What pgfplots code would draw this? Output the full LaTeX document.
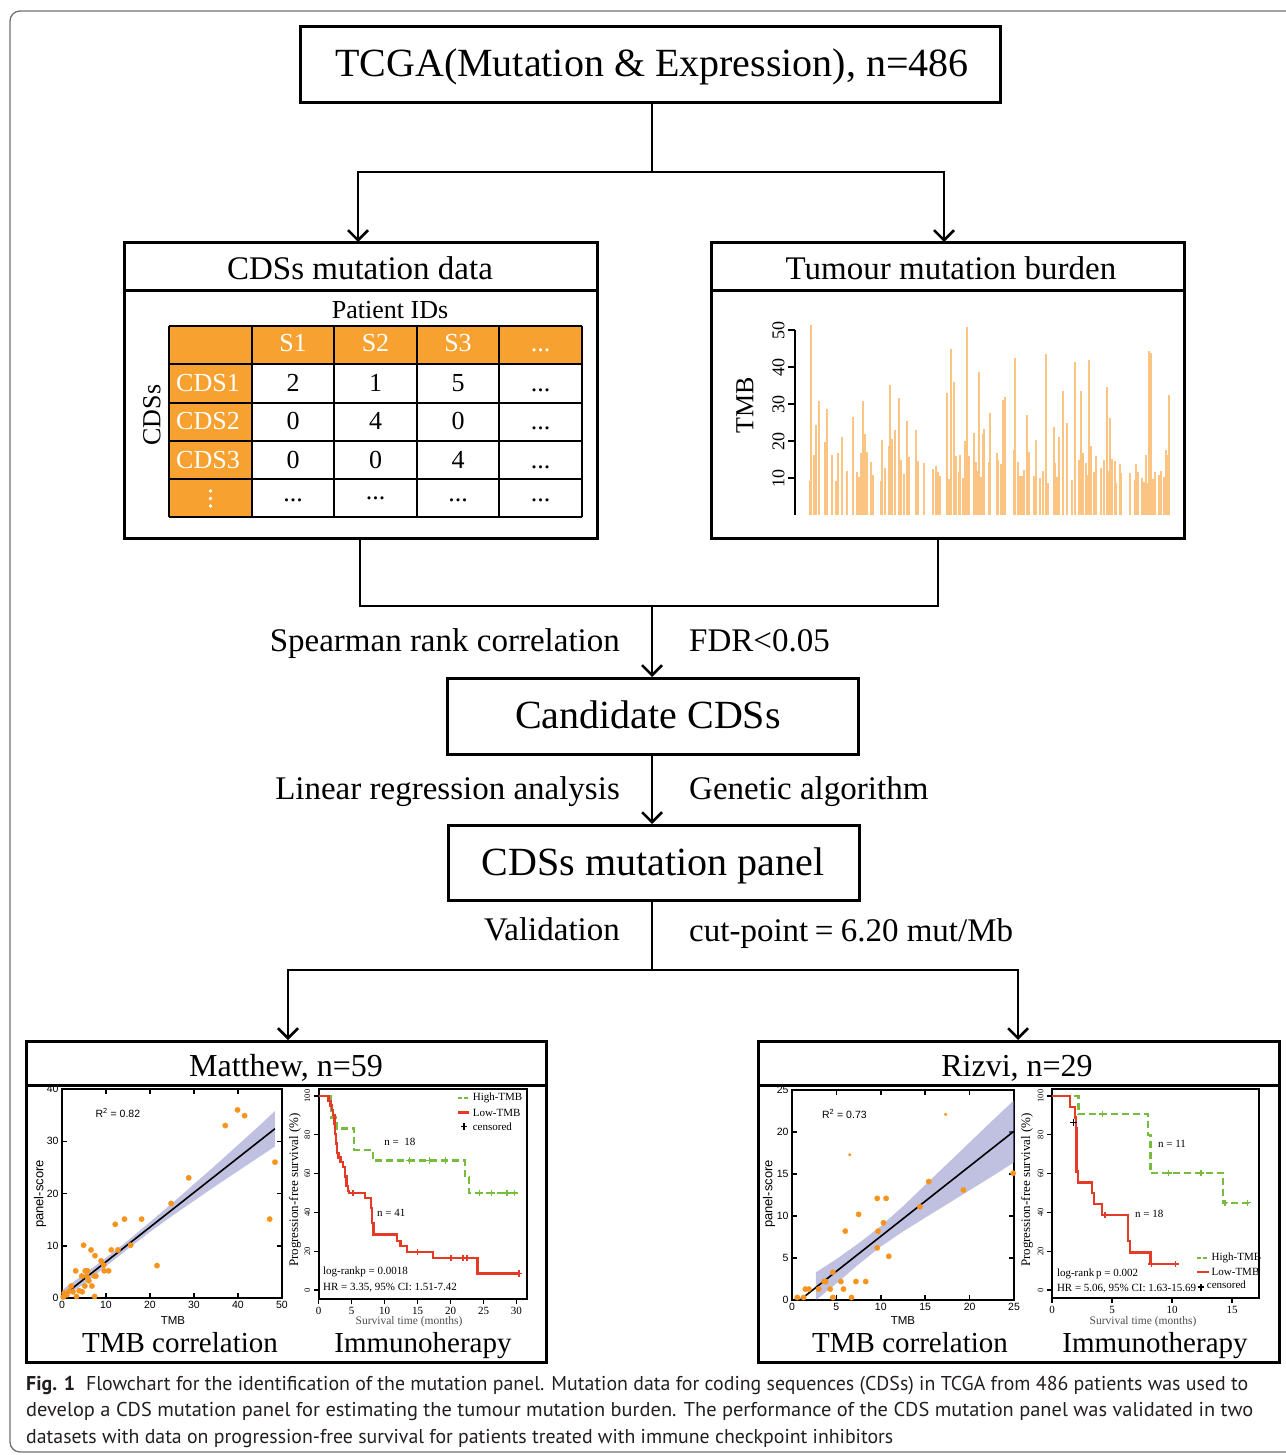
\documentclass[border=0pt]{standalone}
\usepackage{fontspec}
\setmainfont{Liberation Serif}
\setsansfont{Liberation Sans}
\newfontfamily\capfont{PT Sans}
\usepackage{graphicx}
\usepackage{pgfplots}
\pgfplotsset{compat=1.18}
\usetikzlibrary{arrows.meta}
\definecolor{taborange}{HTML}{F7A131}
\definecolor{barorange}{HTML}{F7931E}
\definecolor{ptorange}{HTML}{F7941D}
\definecolor{bandblue}{HTML}{8C8CC8}
\definecolor{kmgreen}{HTML}{77BC3F}
\definecolor{kmred}{HTML}{E53A26}
\definecolor{framegray}{HTML}{707070}
\definecolor{captext}{HTML}{231F20}
\newcommand\fs[1]{\fontsize{#1}{#1}\selectfont}
\pgfplotsset{/pgf/number format/assume math mode=true}
\tikzset{arr/.style={-{Straight Barb[length=10pt,width=20pt]}, line width=2.5pt},
         ln/.style={line width=2.5pt}, bx/.style={line width=3pt}}
\begin{document}
\begin{tikzpicture}
\useasboundingbox (0pt,0pt) rectangle (1285pt,-1455pt);
\begin{scope}[x=1pt,y=-1pt]
% outer frame
\draw[framegray, line width=1.3pt, rounded corners=10pt] (1330,1452) -- (10,1452) -- (10,11) -- (1330,11);
% top box
\draw[bx] (300,27) rectangle (1000,103);
\node[anchor=base, font=\fs{40}, inner sep=0] at (652,77) {TCGA(Mutation \& Expression), n=486};
\draw[ln] (652,103) -- (652,172);
\draw[ln] (358,172) -- (944,172);
\draw[arr] (358,171) -- (358,242);
\draw[arr] (944,171) -- (944,242);
% left box
\draw[bx] (124,243) rectangle (597,538);
\draw[bx] (124,290) -- (597,290);
\node[anchor=base, font=\fs{33}, inner sep=0] at (360,279) {CDSs mutation data};
\node[anchor=base, font=\fs{26}, inner sep=0] at (390,318.5) {Patient IDs};
\fill[taborange] (169,326) rectangle (582,364);
\fill[taborange] (169,364) rectangle (252,517);
\foreach \xx in {169,252,334,417,499,582} {\draw[line width=2pt] (\xx,326) -- (\xx,517);}
\foreach \yy in {326,364,403,441,479,517} {\draw[line width=2pt] (169,\yy) -- (582,\yy);}
\fill[white] (210.5,491) circle (1.9) (210.5,498.5) circle (1.9) (210.5,506) circle (1.9);
\begin{scope}[font=\fs{26}]
\node[anchor=base, white, inner sep=0] at (293,351) {S1};
\node[anchor=base, white, inner sep=0] at (375.5,351) {S2};
\node[anchor=base, white, inner sep=0] at (458,351) {S3};
\node[anchor=base, white, inner sep=0] at (540.5,351) {...};
\node[anchor=base, white, inner sep=0] at (208,391.5) {CDS1};
\node[anchor=base, white, inner sep=0] at (208,429.5) {CDS2};
\node[anchor=base, white, inner sep=0] at (208,468) {CDS3};
\node[anchor=base, inner sep=0] at (293,391.5) {2};
\node[anchor=base, inner sep=0] at (375.5,391.5) {1};
\node[anchor=base, inner sep=0] at (458,391.5) {5};
\node[anchor=base, inner sep=0] at (540.5,391.5) {...};
\node[anchor=base, inner sep=0] at (293,429.5) {0};
\node[anchor=base, inner sep=0] at (375.5,429.5) {4};
\node[anchor=base, inner sep=0] at (458,429.5) {0};
\node[anchor=base, inner sep=0] at (540.5,429.5) {...};
\node[anchor=base, inner sep=0] at (293,468) {0};
\node[anchor=base, inner sep=0] at (375.5,468) {0};
\node[anchor=base, inner sep=0] at (458,468) {4};
\node[anchor=base, inner sep=0] at (540.5,468) {...};
\node[anchor=base, inner sep=0] at (293,501) {...};
\node[anchor=base, inner sep=0] at (375.5,499) {...};
\node[anchor=base, inner sep=0] at (458,501) {...};
\node[anchor=base, inner sep=0] at (540.5,501) {...};
\node[rotate=90, inner sep=0] at (152,415) {CDSs};
\end{scope}
% right box
\draw[bx] (711,243) rectangle (1184,538);
\draw[bx] (711,290) -- (1184,290);
\node[anchor=base, font=\fs{33}, inner sep=0] at (951,279) {Tumour mutation burden};
\node[rotate=90, font=\fs{26}, inner sep=0] at (745,405) {TMB};
% connecting lines
\draw[ln] (360,538) -- (360,606) -- (938,606) -- (938,538);
\draw[arr] (652,606) -- (652,677);
\node[anchor=base east, font=\fs{33}, inner sep=0] at (620,651) {Spearman rank correlation};
\node[anchor=base west, font=\fs{33}, inner sep=0] at (689,651) {FDR<0.05};
\draw[bx] (447,678) rectangle (858,754);
\node[anchor=base, font=\fs{40}, inner sep=0] at (648,728) {Candidate CDSs};
\draw[arr] (652,754) -- (652,824);
\node[anchor=base east, font=\fs{33}, inner sep=0] at (620,799) {Linear regression analysis};
\node[anchor=base west, font=\fs{33}, inner sep=0] at (689,799) {Genetic algorithm};
\draw[bx] (448,825) rectangle (859,900);
\node[anchor=base, font=\fs{40}, inner sep=0] at (653,875) {CDSs mutation panel};
\draw[ln] (652,900) -- (652,970);
\node[anchor=base east, font=\fs{33}, inner sep=0] at (620,940) {Validation};
\node[anchor=base west, font=\fs{33}, inner sep=0] at (689,941) {cut-point\hspace{0.2em}=\hspace{0.22em}6.20 mut/Mb};
\draw[ln] (288,970) -- (1018,970);
\draw[arr] (288,969) -- (288,1040);
\draw[arr] (1018,969) -- (1018,1040);
% bottom boxes
\draw[bx] (26,1041) rectangle (546,1362);
\draw[bx] (26,1085) -- (546,1085);
\draw[bx] (758,1041) rectangle (1279,1362);
\draw[bx] (758,1085) -- (1279,1085);
\node[anchor=base, font=\fs{32}, inner sep=0] at (286,1076.5) {Matthew, n=59};
\node[anchor=base, font=\fs{32}, inner sep=0] at (1017,1076.5) {Rizvi, n=29};
\node[anchor=base, font=\fs{29}, inner sep=0] at (180,1352) {TMB correlation};
\node[anchor=base, font=\fs{29}, inner sep=0] at (423,1352) {Immunoherapy};
\node[anchor=base, font=\fs{29}, inner sep=0] at (910,1352) {TMB correlation};
\node[anchor=base, font=\fs{29}, inner sep=0] at (1155,1352) {Immunotherapy};
% axis labels of small plots
\node[font=\sffamily\fs{11.5}, inner sep=0] at (173,1321) {TMB};
\node[font=\sffamily\fs{13}, rotate=90, inner sep=0] at (40,1194) {panel-score};
\node[font=\sffamily\fs{11.5}, inner sep=0] at (903,1321) {TMB};
\node[font=\sffamily\fs{13}, rotate=90, inner sep=0] at (769,1194) {panel-score};
\node[font=\fs{11.5}, text=black!70, inner sep=0] at (409,1322) {Survival time (months)};
\node[font=\fs{11.5}, text=black!70, inner sep=0] at (1143,1322) {Survival time (months)};
\node[font=\fs{13}, rotate=90, inner sep=0] at (295,1190) {Progression-free survival (\%)};
\node[font=\fs{13}, rotate=90, inner sep=0] at (1027,1190) {Progression-free survival (\%)};
% caption
\begin{scope}[text=captext]
\node[anchor=base west, inner sep=0] at (26,1390) {\resizebox{1222pt}{\height}{\capfont\fs{20}\textbf{Fig. 1}\hspace{0.55em}Flowchart for the identification of the mutation panel. Mutation data for coding sequences (CDSs) in TCGA from 486 patients was used to}};
\node[anchor=base west, inner sep=0] at (26,1416.5) {\resizebox{1227pt}{\height}{\capfont\fs{20}develop a CDS mutation panel for estimating the tumour mutation burden. The performance of the CDS mutation panel was validated in two}};
\node[anchor=base west, inner sep=0] at (26,1443) {\resizebox{867pt}{\height}{\capfont\fs{20}datasets with data on progression-free survival for patients treated with immune checkpoint inhibitors}};
\end{scope}
\end{scope}

% ---------------- TMB bar chart ----------------
\begin{axis}[at={(795pt,-515pt)}, anchor=south west, scale only axis,
  width=380pt, height=185pt, xmin=795, xmax=1175, ymin=0, ymax=50,
  hide x axis, axis y line*=left, axis line style={line width=2pt,-},
  ytick={10,20,30,40,50}, tick align=outside, major tick length=7pt,
  tick style={line width=1.5pt, black},
  yticklabel style={rotate=90, anchor=south, font=\fs{18}}, clip=false]
\addplot[ycomb, draw=barorange, draw opacity=0.55, line width=1.1pt, mark=none] coordinates {
(811,51.4)(811,10.4)(810,9.2)(814,16.2)(816,24.3)(816,19.5)(819,30.9)(819,10.4)
(825,19.8)(827,28.6)(827,16)(832,16.2)(832,10.4)(836,9.2)(838,16.8)(838,11.9)
(842,21.2)(842,15.6)(847,12)(847,11.3)(853,26.6)(853,8.8)(857,11.5)(857,10.8)
(859,10.4)(861,16.8)(861,14)(863,30.9)(863,13.4)(865,22)(865,18.5)(867,17.1)(867,8.7)
(871,14.2)(873,10.8)(881,9.3)(882,20.3)(885,12.8)(885,11.9)(890,35.1)(890,24.3)
(889,18.6)(891,17)(892,20.5)(892,17.1)(895,23)(899,31.7)(899,9.2)(901,15)(904,11.1)
(907,25.5)(907,18.7)(909,8.6)(909,15.6)(916,23)(916,9.6)(918,14.6)(924,14)
(933,12.4)(936,13.3)(938,11.5)(940,10.5)(947,33.1)(947,9.3)(949,9.7)(951,45)(951,19.2)
(954,36)(956,16)(956,12.6)(959,11.5)(960,16.2)(960,8.8)(963,9.9)(965,20)(967,50.7)(967,29.1)
(969,15.9)(969,8.6)(974,22.1)(976,14.4)(977,11.9)(979,38.6)(979,11.1)(981,10.4)(981,9.5)
(983,21.8)(984,23.2)(989,14.2)(990,27.7)(997,16.7)(998,14.9)(1001,13.8)(1001,11.3)
(1003,31.1)(1005,32)(1014,15.1)(1014,17.6)(1015,42.3)(1015,23.6)(1018,14.4)(1018,8.7)
(1020,10.5)(1022,10.5)(1024,12.2)(1027,27.1)(1029,16.9)(1034,10.5)(1036,20.3)(1040,9.9)
(1043,12)(1046,43.5)(1046,9)(1048,8.6)(1054,23.7)(1054,16.8)(1055,14.1)(1057,10.2)
(1059,21.2)(1063,33.5)(1067,25)(1072,9.5)(1075,41.3)(1079,14.9)(1081,33.5)(1083,16.8)
(1086,14.1)(1086,8.9)(1088,10.8)(1089,41.9)(1091,18.6)(1091,8.8)(1094,11.7)(1096,16)
(1101,12.8)(1101,9.9)(1104,14.9)(1107,34.5)(1107,30.9)(1109,11.9)(1110,26.3)(1112,15.1)
(1115,14.7)(1116,8.6)(1120,13.8)(1120,12.6)(1121,11.4)(1130,11.3)(1135,9.5)(1136,13.8)
(1136,12.4)(1138,11.7)(1142,9.9)(1144,9)(1146,16.2)(1148,8.6)(1149,44.3)(1149,22.5)
(1151,43.7)(1151,13.1)(1153,9.6)(1155,11.5)(1159,10.8)(1161,12)(1164,10.4)(1166,17.6)
(1168,16.2)(1168,13.1)(1169,32.4)
};
\end{axis}

% ---------------- Matthew scatter ----------------
\begin{axis}[at={(62pt,-1298pt)}, anchor=south west, scale only axis,
  width=220pt, height=209pt, xmin=0, xmax=50, ymin=0, ymax=40,
  xtick={0,10,20,30,40,50}, ytick={0,10,20,30,40},
  tick align=inside, major tick length=5pt, tick style={black, line width=1.5pt},
  axis line style={line width=1.5pt}, ticklabel style={font=\sffamily\fs{10.5}}]
\addplot[only marks, color=ptorange, mark=*, mark size=2.7pt, mark options={solid, draw=ptorange, fill=ptorange, line width=0.3pt}] coordinates {
(39.9,36.0)(41.5,34.9)(37.1,33.0)(48.4,26.0)(28.8,23.0)(24.8,18.1)(47.2,15.1)(18.1,15.1)
(14.2,15.1)(12.1,14.1)(21.6,6.2)(15.6,10.1)(12.7,9.2)(11.2,9.2)(4.9,10.1)(6.6,9.2)(7.5,8.1)
(8.9,7.1)(9.5,6.3)(9.6,5.2)(10.6,5.2)(3.1,5.2)(5.3,5.2)(5.8,5.2)(4.5,4.2)(7.4,4.2)(6.1,3.3)
(5.2,2.3)(6.8,2.3)(4.6,1.2)(2.1,2.3)(1.6,1.3)(1.1,0.6)(7.4,0.3)(3.3,0.3)(0.5,0.9)(7.7,4.2)
(2.5,1.2)(5.7,4.1)(3.9,1.4)(0.3,0.2)};
\addplot[fill=bandblue, fill opacity=0.55, draw=none] coordinates {
(0,1.5)(5,4.55)(10,7.7)(15,11.0)(20,14.55)(25,18.1)(30,21.8)(35,25.5)(40,29.3)(45,33.1)(48.4,35.8)
(48.4,29.0)(45,27.1)(40,24.3)(35,21.5)(30,18.6)(25,15.7)(20,12.65)(15,9.4)(10,6.1)(5,2.65)(0,0)} -- cycle;
\addplot[black, line width=1.6pt, mark=none] coordinates {(0,0.3)(48.4,32.4)};
\node[font=\sffamily\fs{10.5}] at (axis cs:12.7,35.5) {R\textsuperscript{2} = 0.82};
\end{axis}

% ---------------- Rizvi scatter ----------------
\begin{axis}[at={(792pt,-1300pt)}, anchor=south west, scale only axis,
  width=222pt, height=210pt, xmin=0, xmax=25, ymin=0, ymax=25,
  xtick={0,5,10,15,20,25}, ytick={0,5,10,15,20,25},
  tick align=inside, major tick length=5pt, tick style={black, line width=1.5pt},
  axis line style={line width=1.5pt}, ticklabel style={font=\sffamily\fs{10.5}}]
\addplot[only marks, color=ptorange, mark=*, mark size=2.7pt, mark options={solid, draw=ptorange, fill=ptorange, line width=0.3pt}] coordinates {
(24.9,15.1)(15.4,14.1)(19.3,13.1)(14.4,11.1)(9.6,12.1)(10.6,12.1)(7.5,10.2)(10.3,9.2)
(6.0,8.2)(9.7,8.2)(9.6,6.2)(10.9,5.2)(4.6,3.3)(3.8,2.2)(5.5,2.2)(7.2,2.2)(8.3,2.2)(1.5,1.3)
(1.9,1.3)(3.0,1.3)(4.3,1.3)(5.8,1.3)(0.6,0.3)(1.3,0.3)(4.6,0.3)(6.7,0.3)(3.6,2.2)};
\addplot[only marks, color=ptorange, mark=*, mark size=1.4pt, mark options={solid, draw=ptorange, fill=ptorange, line width=0.3pt}] coordinates {
(17.3,22.1)(6.5,17.3)};
\addplot[fill=bandblue, fill opacity=0.55, draw=none] coordinates {
(2.7,3.3)(5,4.87)(7.5,6.75)(10,8.8)(12.5,11.16)(15,13.7)(17.5,16.23)(20,18.76)(22.5,21.3)(25,23.78)
(25,16.38)(22.5,14.7)(20,13.06)(17.5,11.43)(15,9.8)(12.5,8.16)(10,6.36)(7.5,4.25)(5,1.97)(2.7,0.0)} -- cycle;
\addplot[black, line width=1.6pt, mark=none] coordinates {(0.9,0)(25,20.1)};
\node[font=\sffamily\fs{10.5}] at (axis cs:5.9,22.1) {R\textsuperscript{2} = 0.73};
\end{axis}

% ---------------- Matthew KM ----------------
\begin{axis}[at={(318.7pt,-1299pt)}, anchor=south west, scale only axis,
  width=208.3pt, height=210pt, xmin=0, xmax=31.6, ymin=-4.6, ymax=103.6,
  xtick={0,5,10,15,20,25,30}, ytick={0,20,40,60,80,100},
  xtick pos=left, ytick pos=left, tick align=outside, major tick length=5pt,
  axis line style={line width=2pt}, tick style={black, line width=1.3pt},
  xticklabel style={font=\fs{11}}, yticklabel style={font=\fs{8.5}, rotate=90, anchor=south},
  clip=false]
\addplot[const plot, kmgreen, line width=2.3pt, dash pattern=on 7pt off 4pt, mark=none] coordinates {
(0,100)(1.9,88.9)(2.8,83.3)(5.4,72.2)(8.2,66.7)(22.2,58.3)(22.8,50)(30,50)};
\addplot[only marks, mark=+, mark size=3.2pt, kmgreen, mark options={solid, line width=1.5pt}] coordinates {
(13.8,66.7)(16.8,66.7)(19.2,66.7)(24.4,50)(26.2,50)(28.6,50)(29.7,50)};
\addplot[const plot, kmred, line width=2.3pt, mark=none] coordinates {
(0,100)(1.5,97.6)(1.8,95.1)(2.0,92.7)(2.2,90.2)(2.4,85.4)(2.5,80.5)(2.6,75.6)(2.75,70.7)
(3.0,68.3)(3.3,65.9)(3.7,63.4)(4.0,58.5)(4.2,53.7)(4.4,51.2)(4.6,50.0)(7.0,47.4)(7.9,42.3)
(8.1,34.6)(8.3,28.7)(11.9,25.3)(12.4,22.7)(13.4,19.6)(17.3,16.4)(24.1,8.5)(30.4,8.5)};
\addplot[only marks, mark=+, mark size=3.2pt, kmred, mark options={solid, line width=1.5pt}] coordinates {
(5.2,50)(15.0,19.6)(20.1,16.4)(21.9,16.4)(22.5,16.4)(30.4,8.5)};
\draw[kmgreen, line width=2.3pt, dash pattern=on 4pt off 2pt] (axis cs:21.2,99) -- (axis cs:22.8,99);
\draw[kmred, line width=2.3pt] (axis cs:21.2,91.5) -- (axis cs:22.8,91.5);
\addplot[only marks, mark=+, mark size=3.2pt, black, mark options={line width=1.8pt}] coordinates {(22,84.3)};
\node[anchor=west, font=\fs{11}, inner sep=1pt] at (axis cs:23.2,99) {High-TMB};
\node[anchor=west, font=\fs{11}, inner sep=1pt] at (axis cs:23.2,91.5) {Low-TMB};
\node[anchor=west, font=\fs{11}, inner sep=1pt] at (axis cs:23.2,84.3) {censored};
\node[font=\fs{11}] at (axis cs:12.3,76.3) {n =\ \ 18};
\node[font=\fs{11}] at (axis cs:11.0,39.7) {n = 41};
\node[anchor=west, font=\fs{11}, inner sep=0] at (axis cs:0.65,9.3) {log-rankp = 0.0018};
\node[anchor=west, font=\fs{11}, inner sep=0] at (axis cs:0.65,1.0) {HR = 3.35, 95\% CI: 1.51-7.42};
\end{axis}

% ---------------- Rizvi KM ----------------
\begin{axis}[at={(1052pt,-1298pt)}, anchor=south west, scale only axis,
  width=206.5pt, height=209pt, xmin=0, xmax=17.2, ymin=-4.1, ymax=103.6,
  xtick={0,5,10,15}, ytick={0,20,40,60,80,100},
  xtick pos=left, ytick pos=left, tick align=outside, major tick length=5pt,
  axis line style={line width=2pt}, tick style={black, line width=1.3pt},
  xticklabel style={font=\fs{11}}, yticklabel style={font=\fs{8.5}, rotate=90, anchor=south},
  clip=false]
\addplot[const plot, kmgreen, line width=2.3pt, dash pattern=on 7pt off 4pt, mark=none] coordinates {
(0,100)(2.2,90.8)(8.0,80)(8.2,60.3)(14.25,45)(16.4,45)};
\addplot[only marks, mark=+, mark size=3.2pt, kmgreen, mark options={solid, line width=1.5pt}] coordinates {
(4.2,90.8)(9.7,60.3)(12.4,60.3)(14.4,45)(16.3,45)};
\addplot[const plot, kmred, line width=2.3pt, mark=none] coordinates {
(0,100)(1.5,94.4)(1.9,88.9)(2.0,83.3)(2.05,61.1)(2.15,55.5)(3.33,50)(3.5,44.4)(4.17,38.6)
(6.3,25.3)(6.5,19.3)(8.2,13.3)(10.3,13.3)};
\addplot[only marks, mark=+, mark size=3.2pt, kmred, mark options={solid, line width=1.5pt}] coordinates {
(4.4,38.6)(8.3,13.3)(10.3,13.3)};
\addplot[only marks, mark=+, mark size=3.2pt, black, mark options={line width=1.6pt}] coordinates {(1.8,86.3)};
\draw[kmgreen, line width=2.3pt, dash pattern=on 4pt off 2pt] (axis cs:12.1,16.4) -- (axis cs:13.1,16.4);
\draw[kmred, line width=2.3pt] (axis cs:12.1,9.4) -- (axis cs:13.1,9.4);
\addplot[only marks, mark=+, mark size=3.2pt, black, mark options={line width=1.8pt}] coordinates {(12.4,1.4)};
\node[anchor=west, font=\fs{11}, inner sep=1pt] at (axis cs:13.2,16.4) {High-TMB};
\node[anchor=west, font=\fs{11}, inner sep=1pt] at (axis cs:13.2,9.4) {Low-TMB};
\node[anchor=west, font=\fs{11}, inner sep=1pt] at (axis cs:12.8,3.0) {censored};
\node[font=\fs{11}] at (axis cs:10.0,75.2) {n = 11};
\node[font=\fs{11}] at (axis cs:8.1,39) {n = 18};
\node[anchor=west, font=\fs{11}, inner sep=0] at (axis cs:0.4,8.2) {log-rank\,p = 0.002};
\node[anchor=west, font=\fs{11}, inner sep=0] at (axis cs:0.4,0.5) {HR = 5.06, 95\% CI: 1.63-15.69};
\end{axis}
\end{tikzpicture}
\end{document}
